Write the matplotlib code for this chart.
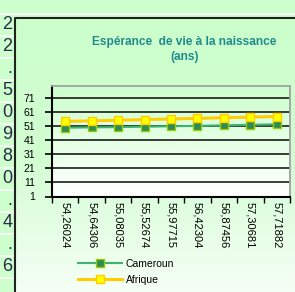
import numpy as np
import matplotlib.pyplot as plt
from matplotlib.colors import LinearSegmentedColormap
from matplotlib.transforms import Bbox, blended_transform_factory

plt.rcParams['font.family'] = ['Liberation Sans', 'DejaVu Sans']

# data
x_labels = ["54,26024", "54,64306", "55,08035", "55,52674", "55,97715",
            "56,42304", "56,87456", "57,30681", "57,71882"]
cameroun = [49.8, 50.0, 50.2, 50.5, 50.8, 51.1, 51.5, 51.8, 52.2]
afrique = [54.26, 54.64, 55.08, 55.53, 55.98, 56.42, 56.87, 57.31, 57.72]
y_ticks = [1, 11, 21, 31, 41, 51, 61, 71]
sheet_chars = ["2", "2", ".", "5", "0", "9", "8", "0", ".", "4", ".", "6"]

W, H = 295, 292
fig = plt.figure(figsize=(W / 100, H / 100), dpi=100)
fig.patch.set_facecolor('#ccffcc')

# spreadsheet behind the chart, drawn in pixel coordinates
bg = fig.add_axes([0, 0, 1, 1])
bg.axis('off')
bg.plot([0, W], [13.5, 13.5], color='white', lw=1.2)
for k in range(len(sheet_chars) + 1):
    yy = 13.5 + 22 * k
    bg.plot([0, 13], [yy, yy], color='white', lw=1.2)
for k, ch in enumerate(sheet_chars):
    yy = 13.5 + 22 * k
    bg.text(12.5, yy + 11, ch, ha='right', va='center', fontsize=13, color='#2b2b48')

grad = np.linspace(0, 1, 256).reshape(-1, 1)
chart_cmap = LinearSegmentedColormap.from_list('chart', ['#ccffcc', '#d2fdd2', '#f6fff6'])
bg.imshow(grad, extent=[14.5, W, H, 17.5], cmap=chart_cmap, aspect='auto', zorder=1)
bg.plot([14.5, 14.5, W], [H, 17.5, 17.5], color='#222222', lw=1.5, zorder=3)
bg.set_xlim(0, W)
bg.set_ylim(H, 0)

# plot area
ax = fig.add_axes([52 / W, (H - 196.5) / H, 238 / W, 110 / H])
plot_cmap = LinearSegmentedColormap.from_list('plot', ['#ccffcc', '#ffffff'])
ax.imshow(grad, extent=[0, 1, 0, 1], transform=ax.transAxes, cmap=plot_cmap,
          aspect='auto', zorder=0)

x = np.arange(len(afrique))
ax.plot(x, cameroun, color='#3cb371', lw=1.5, marker='s', ms=6, mfc='#2e8b57',
        mec='#99cc00', mew=1, label='Cameroun', zorder=4)
ax.plot(x, afrique, color='#ffcc00', lw=2.2, marker='s', ms=6, mfc='#ffff00',
        mec='#ffcc00', mew=1, label='Afrique', zorder=5)

ax.set_xlim(-0.5, len(x) - 0.5)
ax.set_ylim(1, 79)
ax.set_yticks(y_ticks)
ax.set_xticks(np.arange(-0.5, len(x)))
ax.set_xticklabels([])
ax.set_axisbelow(True)
ax.yaxis.grid(True, color='#1a1a1a', lw=1.2)
ax.tick_params(axis='x', direction='out', length=4, width=1, color='black')
ax.tick_params(axis='y', direction='out', length=5, width=1.2, pad=7, labelsize=7.5)
for side in ('left', 'bottom'):
    ax.spines[side].set_color('black')
    ax.spines[side].set_linewidth(1.5)
for side in ('top', 'right'):
    ax.spines[side].set_color('#a0a0a0')
    ax.spines[side].set_linewidth(1.3)

# category labels, cut off like in the original
clip = Bbox.from_extents(0, H - 254, W, H)
trans = blended_transform_factory(ax.transData, fig.transFigure)
for i, lab in enumerate(x_labels):
    t = fig.text(i, (H - 202) / H, lab, transform=trans, rotation=-90,
                 ha='center', va='top', fontsize=8)
    t.set_clip_box(clip)
    t.set_clip_on(True)

fig.text(184.5 / W, (H - 42) / H, "Espérance  de vie à la naissance", ha='center',
         va='center', fontsize=8.6, color='#218b8b', weight='bold')
fig.text(184.5 / W, (H - 57) / H, "(ans)", ha='center', va='center',
         fontsize=8.6, color='#218b8b', weight='bold')

handles, labels = ax.get_legend_handles_labels()
fig.legend(handles, labels, loc='center left', bbox_to_anchor=(78 / W, (H - 271.75) / H),
           frameon=False, fontsize=7.5, handlelength=4.2, handletextpad=0.4,
           labelspacing=0.55, borderpad=0, borderaxespad=0)

fig.savefig('out.png', dpi=100, facecolor=fig.get_facecolor())
